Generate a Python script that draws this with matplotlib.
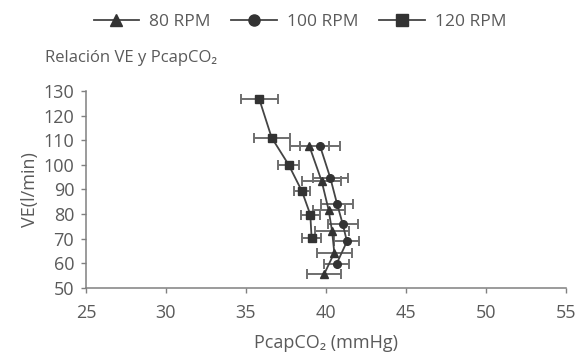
import matplotlib
matplotlib.use("Agg")
import matplotlib.pyplot as plt
from matplotlib.lines import Line2D

plt.rcParams['font.family'] = ['Open Sans', 'DejaVu Sans']

# 80 RPM (triangles)
x80 = [38.96, 39.73, 40.16, 40.38, 40.52, 39.89]
y80 = [107.6, 93.4, 81.8, 73.1, 64.3, 55.7]
e80 = [1.2, 1.2, 1.0, 1.06, 1.1, 1.05]
# 100 RPM (circles)
x100 = [39.63, 40.27, 40.69, 41.04, 41.31, 40.66]
y100 = [107.6, 94.7, 84.2, 76.1, 68.9, 59.8]
e100 = [1.25, 1.1, 1.0, 0.94, 0.78, 0.8]
# 120 RPM (squares)
x120 = [35.83, 36.6, 37.66, 38.5, 39.02, 39.1]
y120 = [126.7, 111.1, 100.1, 89.25, 79.8, 70.2]
e120 = [1.15, 1.12, 0.68, 0.52, 0.6, 0.58]

labels = ["80 RPM", "100 RPM", "120 RPM"]
xticks = [25, 30, 35, 40, 45, 50, 55]
yticks = [50, 60, 70, 80, 90, 100, 110, 120, 130]

txt = '#5a5a5a'
line_c = '#444444'
err_c = '#6e6e6e'

fig = plt.figure(figsize=(5.75, 3.52), dpi=100)
ax = fig.add_axes([86/575, 1-288/352, (566-86)/575, (288-91)/352])

series = [(x80, y80, e80, '^'), (x100, y100, e100, 'o'), (x120, y120, e120, 's')]
handles = []
for (xs, ys, es, m), lab in zip(series, labels):
    ax.errorbar(xs, ys, xerr=es, fmt='none', ecolor=err_c, elinewidth=1.4,
                capsize=3.5, capthick=1.4, zorder=2)
    ax.plot(xs, ys, color=line_c, lw=1.3, marker=m, ms=5.5, mfc='#333333',
            mec='#333333', zorder=3)
    handles.append(Line2D([], [], color=line_c, lw=1.3, marker=m, ms=8,
                          mfc='#333333', mec='#333333', label=lab))

ax.set_xlim(25, 55)
ax.set_ylim(50, 130)
ax.set_xticks(xticks)
ax.set_yticks(yticks)
for s in ['top', 'right']:
    ax.spines[s].set_visible(False)
for s in ['left', 'bottom']:
    ax.spines[s].set_color('#808080')
    ax.spines[s].set_linewidth(1.1)
ax.tick_params(axis='both', colors='#808080', labelcolor=txt, labelsize=13,
               length=3.5, width=1.0)
ax.tick_params(axis='y', pad=5)
ax.tick_params(axis='x', pad=8)

ax.set_xlabel("PcapCO₂ (mmHg)", color=txt, fontsize=13, labelpad=9)
ax.set_ylabel("VE(l/min)", color=txt, fontsize=13, labelpad=3)

fig.text(45/575, 1-58/352, "Relación VE y PcapCO₂", color=txt, fontsize=12,
         va='center', ha='left')

leg = fig.legend(handles=handles, loc='center', bbox_to_anchor=(300/575, 1-22/352),
                 ncol=3, frameon=False, fontsize=12.5, handlelength=2.6,
                 columnspacing=1.2, handletextpad=0.6)
for t in leg.get_texts():
    t.set_color(txt)

fig.savefig("out.png", dpi=100)
